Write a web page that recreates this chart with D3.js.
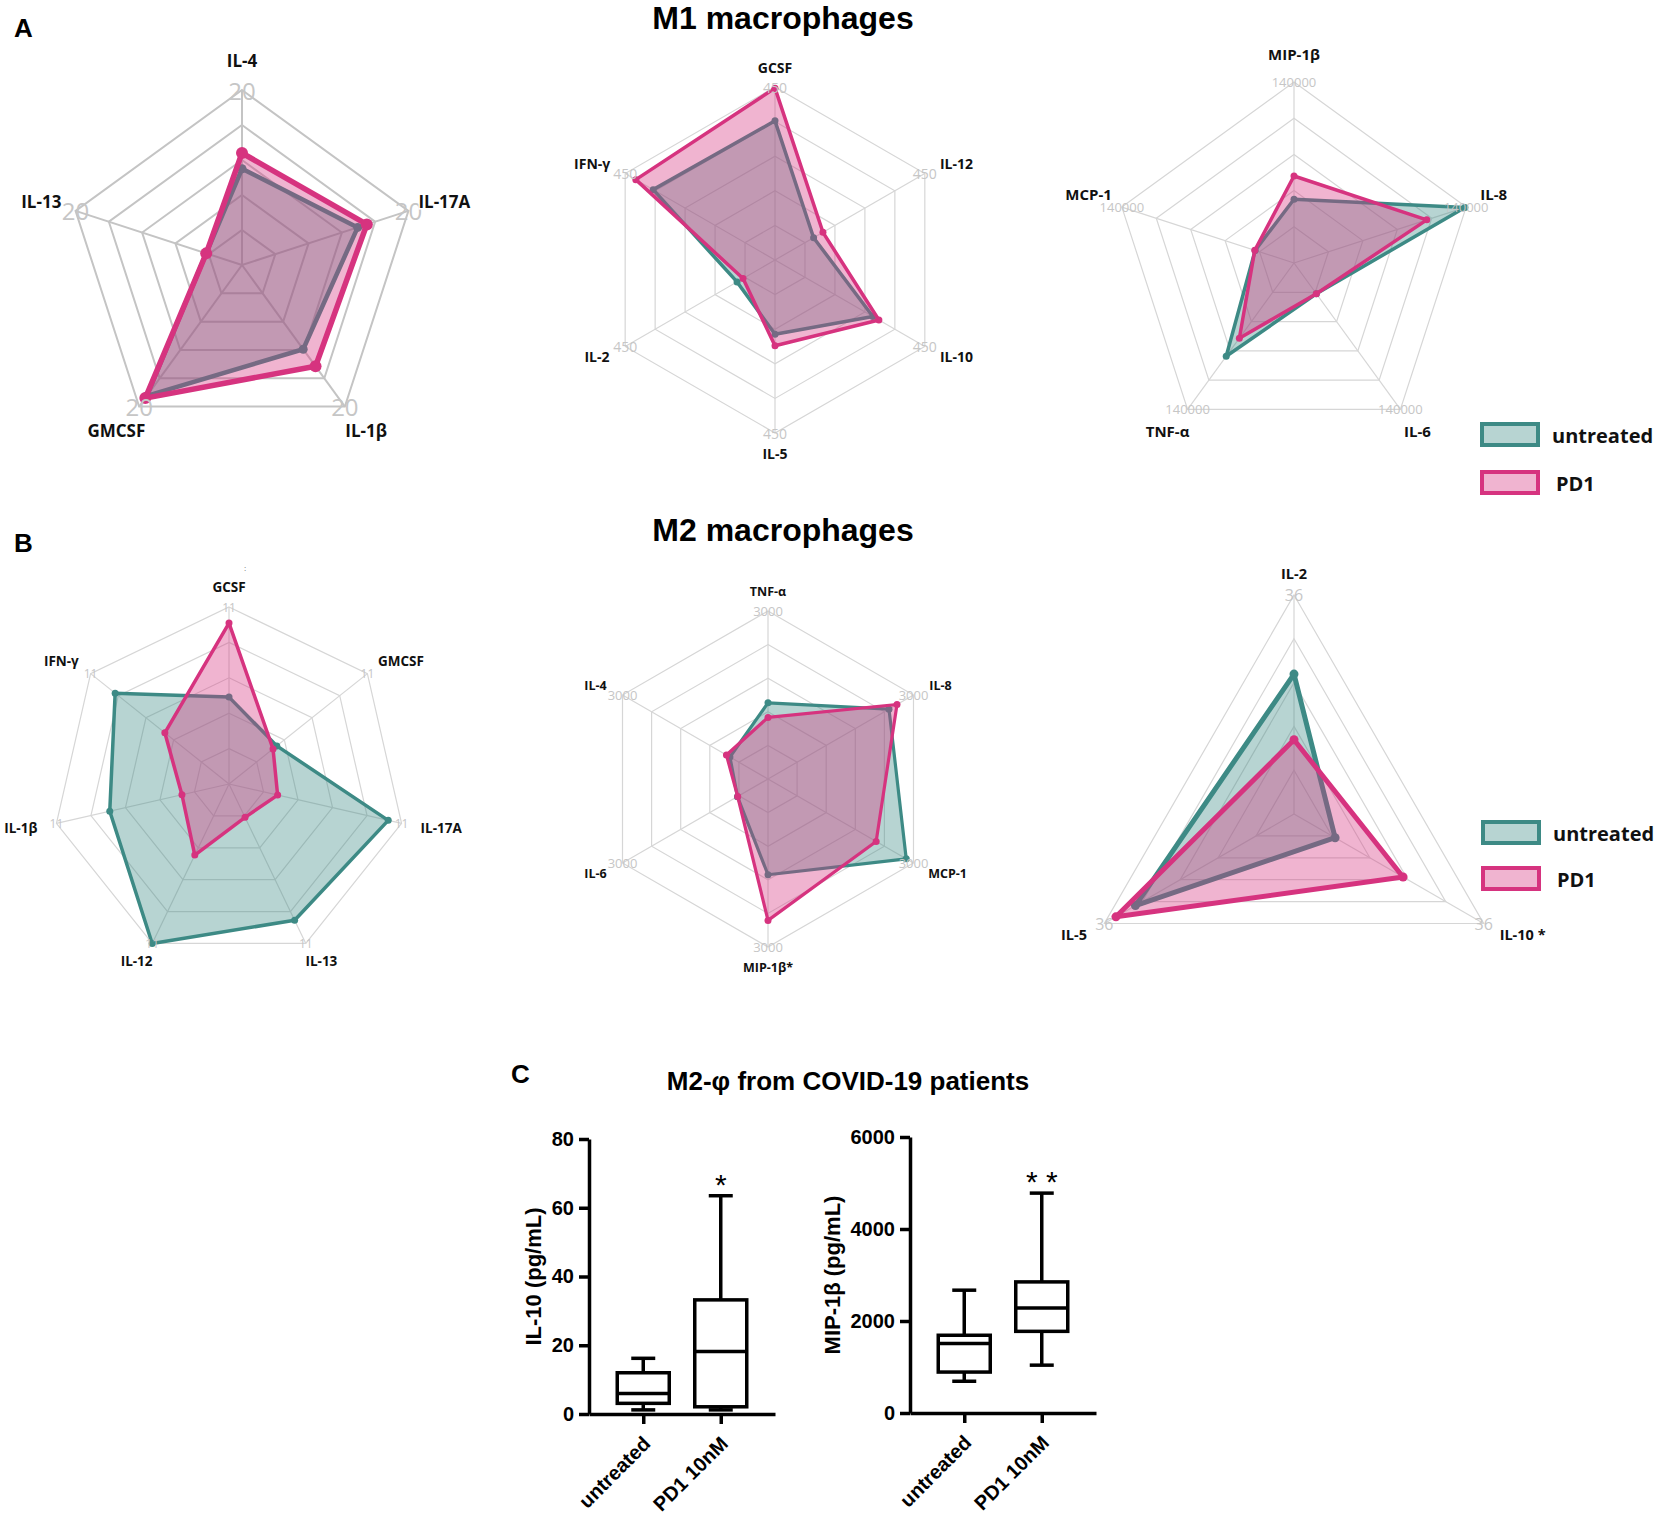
<!DOCTYPE html>
<html>
<head>
<meta charset="utf-8">
<script src="https://cdnjs.cloudflare.com/ajax/libs/d3/7.8.5/d3.min.js"></script>
<style>
body { margin: 0; background: #fff; }
svg { display: block; }
</style>
</head>
<body>
<div id="chart"></div>
<script>
// series
const seriesNames = ['untreated', 'PD1']
const seriesColors = ['#3d8a85', '#d6337f']

// A - M1 macrophages
const m1Cytokines1 = ['IL-4', 'IL-17A', 'IL-1β', 'GMCSF', 'IL-13']
const m1Untreated1 = [11.0, 13.9, 11.9, 18.5, 4.3]
const m1Pd1_1 = [12.8, 15.0, 14.3, 18.8, 4.3]

const m1Cytokines2 = ['GCSF', 'IL-12', 'IL-10', 'IL-5', 'IL-2', 'IFN-γ']
const m1Untreated2 = [362, 116, 294, 193, 114, 366]
const m1Pd1_2 = [447, 144, 312, 223, 96, 418]

const m1Cytokines3 = ['MIP-1β', 'IL-8', 'IL-6', 'TNF-α', 'MCP-1']
const m1Untreated3 = [49300, 139000, 29400, 89200, 31600]
const m1Pd1_3 = [67300, 108000, 29400, 71900, 31900]

// B - M2 macrophages
const m2Cytokines1 = ['GCSF', 'GMCSF', 'IL-17A', 'IL-13', 'IL-12', 'IL-1β', 'IFN-γ']
const m2Untreated1 = [5.4, 3.8, 10.15, 9.4, 11, 7.6, 9.05]
const m2Pd1_1 = [10, 3.5, 3.1, 2.3, 4.9, 3.0, 5.1]

const m2Cytokines2 = ['TNF-α', 'IL-8', 'MCP-1', 'MIP-1β*', 'IL-6', 'IL-4']
const m2Untreated2 = [1360, 2495, 2850, 1710, 630, 785]
const m2Pd1_2 = [1100, 2660, 2230, 2525, 625, 857]

const m2Cytokines3 = ['IL-2', 'IL-10 *', 'IL-5']
const m2Untreated3 = [23.0, 7.8, 30.1]
const m2Pd1_3 = [12.2, 20.7, 33.8]

// radar scale maxima (also the grey tick label)
const radarMax = [20, 450, 140000, 11, 3000, 36]

// C - box plots (min, q1, median, q3, max)
const boxGroups = ['untreated', 'PD1 10nM']
const il10Stats = [[1.2, 3.1, 6.0, 12.0, 16.2], [1.2, 2.1, 18.2, 33.2, 63.5]]
const mip1bStats = [[690, 890, 1510, 1690, 2670], [1040, 1775, 2285, 2850, 4780]]
const il10Ticks = [0, 20, 40, 60, 80]
const mip1bTicks = [0, 2000, 4000, 6000]
const il10Sig = ['', '*']
const mip1bSig = ['', '* *']

const W = 1654, H = 1516
const svg = d3.select('#chart').append('svg')
    .attr('width', W)
    .attr('height', H)
    .style('background', '#fff')

const labelFont = '"Open Sans", "DejaVu Sans", sans-serif'
const arialFont = '"Liberation Sans", Arial, sans-serif'

// layout of the six radars
const radars = [
    { axes: m1Cytokines1, values: [m1Untreated1, m1Pd1_1], max: radarMax[0], cx: 242, cy: 265, r: 175,
      lw: [4.5, 5.5], dot: [4.5, 6], grid: ['#c4c4c4', 2], tickSize: 24, labelSize: 17, pad: 30, shift: 0.3, lift: 0 },
    { axes: m1Cytokines2, values: [m1Untreated2, m1Pd1_2], max: radarMax[1], cx: 775, cy: 260, r: 173,
      lw: [3.5, 3.5], dot: [3.5, 3.5], grid: ['#d6d6d6', 1.2], tickSize: 14, labelSize: 14, pad: 20, shift: 1, lift: 0 },
    { axes: m1Cytokines3, values: [m1Untreated3, m1Pd1_3], max: radarMax[2], cx: 1294, cy: 263, r: 181,
      lw: [3.5, 3.5], dot: [3.5, 3.5], grid: ['#d6d6d6', 1.2], tickSize: 13, labelSize: 15, pad: 21, shift: 0.6, lift: 7 },
    { axes: m2Cytokines1, values: [m2Untreated1, m2Pd1_1], max: radarMax[3], cx: 229, cy: 784, r: 177,
      lw: [3.5, 3.5], dot: [3.5, 3.5], grid: ['#d6d6d6', 1.2], tickSize: 12, labelSize: 13.5, pad: 20, shift: 1, lift: 0 },
    { axes: m2Cytokines2, values: [m2Untreated2, m2Pd1_2], max: radarMax[4], cx: 768, cy: 779, r: 168,
      lw: [3.2, 3.2], dot: [3.5, 3.5], grid: ['#d6d6d6', 1.2], tickSize: 13, labelSize: 12.5, pad: 20, shift: 1, lift: 0 },
    { axes: m2Cytokines3, values: [m2Untreated3, m2Pd1_3], max: radarMax[5], cx: 1294, cy: 814, r: 219,
      lw: [5, 5], dot: [4.5, 4.5], grid: ['#d6d6d6', 1.2], tickSize: 16, labelSize: 14.5, pad: 22, shift: 1, lift: 0 }
]

let drawRadar = function(c) {
    const g = svg.append('g')
    const n = c.axes.length
    const ang = i => i * 2 * Math.PI / n
    const rScale = d3.scaleLinear().domain([0, c.max]).range([0, c.r])
    const px = (v, i) => c.cx + rScale(v) * Math.sin(ang(i))
    const py = (v, i) => c.cy - rScale(v) * Math.cos(ang(i))
    const line = d3.line()
        .x(d => px(d.v, d.i))
        .y(d => py(d.v, d.i))
        .curve(d3.curveLinearClosed)

    // grid rings and spokes
    const levels = d3.range(1, 6).map(k => c.max * k / 5)
    g.selectAll('.ring')
        .data(levels)
        .enter().append('path')
        .attr('d', lv => line(c.axes.map((a, i) => ({ v: lv, i: i }))))
        .attr('fill', 'none')
        .attr('stroke', c.grid[0])
        .attr('stroke-width', c.grid[1])
    g.selectAll('.spoke')
        .data(c.axes)
        .enter().append('line')
        .attr('x1', c.cx).attr('y1', c.cy)
        .attr('x2', (d, i) => px(c.max, i))
        .attr('y2', (d, i) => py(c.max, i))
        .attr('stroke', c.grid[0])
        .attr('stroke-width', c.grid[1])

    // series: untreated first, PD1 on top
    c.values.forEach((vals, s) => {
        const pts = vals.map((v, i) => ({ v: v, i: i }))
        g.append('path')
            .attr('d', line(pts))
            .attr('fill', seriesColors[s])
            .attr('fill-opacity', 0.37)
            .attr('stroke', seriesColors[s])
            .attr('stroke-width', c.lw[s])
            .attr('stroke-linejoin', 'round')
        g.selectAll(null)
            .data(pts)
            .enter().append('circle')
            .attr('cx', d => px(d.v, d.i))
            .attr('cy', d => py(d.v, d.i))
            .attr('r', c.dot[s])
            .attr('fill', seriesColors[s])
    })

    // grey max labels at each vertex
    g.selectAll('.tick-label')
        .data(c.axes)
        .enter().append('text')
        .attr('x', (d, i) => px(c.max, i))
        .attr('y', (d, i) => py(c.max, i))
        .attr('text-anchor', 'middle')
        .attr('dominant-baseline', 'central')
        .style('font-family', labelFont)
        .style('font-size', c.tickSize + 'px')
        .style('fill', '#c6c6c6')
        .text(d3.format('d')(c.max))

    // cytokine names (white halo, like the original's label boxes)
    g.selectAll('.axis-label')
        .data(c.axes)
        .enter().append('text')
        .attr('text-anchor', 'middle')
        .attr('dominant-baseline', 'central')
        .style('font-family', labelFont)
        .style('font-weight', 700)
        .style('font-size', c.labelSize + 'px')
        .style('fill', '#111')
        .style('stroke', '#fff')
        .style('stroke-width', 3)
        .style('paint-order', 'stroke')
        .text(d => d)
        .each(function(d, i) {
            const w = this.getComputedTextLength()
            const sx = Math.sin(ang(i)), cy = Math.cos(ang(i))
            // lift upper labels, drop lower ones, away from the grey tick labels
            const nudge = cy >= 0 ? -c.lift : c.lift * 0.6
            d3.select(this)
                .attr('x', c.cx + (c.r + c.pad) * sx + sx * c.shift * w / 2)
                .attr('y', c.cy - (c.r + c.pad) * cy + nudge)
        })
}

radars.forEach(drawRadar)

// legends
let drawLegend = function(x, y, step) {
    const lg = svg.append('g').attr('transform', `translate(${x},${y})`)
    seriesNames.forEach((name, s) => {
        lg.append('rect')
            .attr('x', 0).attr('y', s * step)
            .attr('width', 56).attr('height', 21)
            .attr('fill', seriesColors[s])
            .attr('fill-opacity', 0.37)
            .attr('stroke', seriesColors[s])
            .attr('stroke-width', 4)
        lg.append('text')
            .attr('x', 70 + s * 4).attr('y', s * step + 11)
            .attr('dominant-baseline', 'central')
            .style('font-family', labelFont)
            .style('font-weight', 700)
            .style('font-size', '20px')
            .style('fill', '#111')
            .text(name)
    })
}
drawLegend(1482, 424, 48)
drawLegend(1483, 822, 46)

// titles and panel letters
const titles = [
    { t: 'M1 macrophages', x: 783, y: 29, size: 32, anchor: 'middle' },
    { t: 'M2 macrophages', x: 783, y: 541, size: 32, anchor: 'middle' },
    { t: 'M2-φ from COVID-19 patients', x: 848, y: 1090, size: 26, anchor: 'middle' },
    { t: 'A', x: 14, y: 37, size: 26, anchor: 'start' },
    { t: 'B', x: 14, y: 552, size: 26, anchor: 'start' },
    { t: 'C', x: 511, y: 1083, size: 26, anchor: 'start' }
]
svg.selectAll('.title')
    .data(titles)
    .enter().append('text')
    .attr('x', d => d.x)
    .attr('y', d => d.y)
    .attr('text-anchor', d => d.anchor)
    .style('font-family', arialFont)
    .style('font-weight', 700)
    .style('font-size', d => d.size + 'px')
    .style('fill', '#000')
    .text(d => d.t)

// stray mark above GCSF in the M2 radar
svg.append('text').attr('x', 244).attr('y', 571).style('font-size', '8px').style('fill', '#555').text(':')

// box plots
let drawBoxPlot = function(cfg) {
    const g = svg.append('g')
    const x = d3.scalePoint().domain(boxGroups).range([cfg.x0, cfg.x0 + 186]).padding(0.7)
    const y = d3.scaleLinear().domain([0, d3.max(cfg.ticks)]).range([cfg.yBottom, cfg.yTop])

    g.append('g')
        .attr('transform', `translate(${cfg.x0},0)`)
        .call(d3.axisLeft(y).tickValues(cfg.ticks).tickSize(10).tickSizeOuter(0).tickPadding(5).tickFormat(d3.format('d')))
    const xAxis = g.append('g')
        .attr('transform', `translate(0,${cfg.yBottom})`)
        .call(d3.axisBottom(x).tickSize(10).tickSizeOuter(0))

    g.selectAll('.domain, .tick line').attr('stroke', '#000').attr('stroke-width', 3.5)
    g.selectAll('.tick text')
        .style('font-family', arialFont)
        .style('font-weight', 700)
        .style('font-size', '20px')
        .attr('fill', '#000')
    xAxis.selectAll('.tick text')
        .attr('text-anchor', 'end')
        .attr('x', 0).attr('y', 0).attr('dy', '0.35em')
        .attr('transform', 'translate(3,26) rotate(-45)')

    const bw = 52, cap = 24
    const bx = g.selectAll('.box')
        .data(cfg.stats)
        .enter().append('g')
        .attr('transform', (d, i) => `translate(${x(boxGroups[i])},0)`)
    bx.append('line')
        .attr('x1', 0).attr('x2', 0)
        .attr('y1', d => y(d[0])).attr('y2', d => y(d[4]))
        .attr('stroke', '#000').attr('stroke-width', 3.5)
    bx.append('line')
        .attr('x1', -cap / 2).attr('x2', cap / 2)
        .attr('y1', d => y(d[4])).attr('y2', d => y(d[4]))
        .attr('stroke', '#000').attr('stroke-width', 3.5)
    bx.append('line')
        .attr('x1', -cap / 2).attr('x2', cap / 2)
        .attr('y1', d => y(d[0])).attr('y2', d => y(d[0]))
        .attr('stroke', '#000').attr('stroke-width', 3.5)
    bx.append('rect')
        .attr('x', -bw / 2).attr('width', bw)
        .attr('y', d => y(d[3]))
        .attr('height', d => y(d[1]) - y(d[3]))
        .attr('fill', '#fff')
        .attr('stroke', '#000').attr('stroke-width', 3.5)
    bx.append('line')
        .attr('x1', -bw / 2).attr('x2', bw / 2)
        .attr('y1', d => y(d[2])).attr('y2', d => y(d[2]))
        .attr('stroke', '#000').attr('stroke-width', 3.5)
    bx.append('text')
        .attr('x', 0)
        .attr('y', d => y(d[4]) - 1)
        .attr('text-anchor', 'middle')
        .style('font-family', arialFont)
        .style('font-size', '30px')
        .text((d, i) => cfg.sig[i])

    g.append('text')
        .attr('transform', `translate(${cfg.labelX},${(cfg.yTop + cfg.yBottom) / 2}) rotate(-90)`)
        .attr('text-anchor', 'middle')
        .attr('dominant-baseline', 'central')
        .style('font-family', arialFont)
        .style('font-weight', 700)
        .style('font-size', '22px')
        .text(cfg.label)
}

drawBoxPlot({ stats: il10Stats, ticks: il10Ticks, sig: il10Sig, label: 'IL-10 (pg/mL)',
    x0: 589, yTop: 1139, yBottom: 1414, labelX: 533 })
drawBoxPlot({ stats: mip1bStats, ticks: mip1bTicks, sig: mip1bSig, label: 'MIP-1β (pg/mL)',
    x0: 910, yTop: 1137, yBottom: 1413, labelX: 832 })
</script>
</body>
</html>
